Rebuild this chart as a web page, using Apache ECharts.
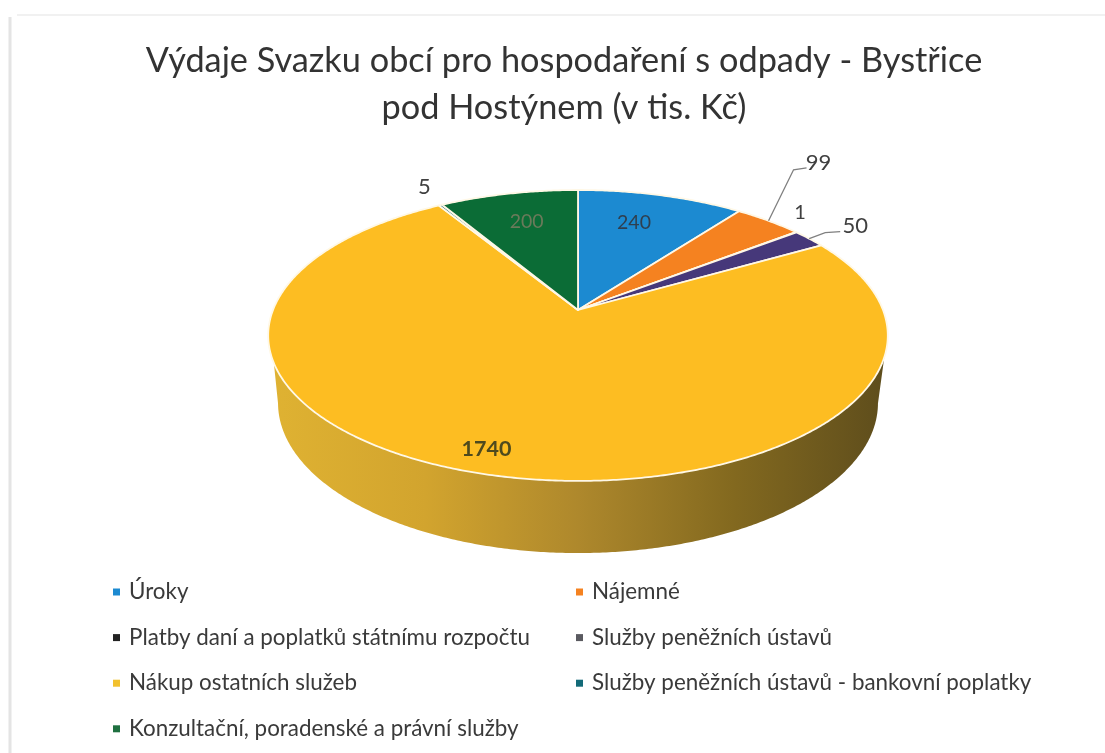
<!DOCTYPE html>
<html><head><meta charset="utf-8">
<style>html,body{margin:0;padding:0;background:#fff}#c{width:1105px;height:753px}</style>
<script src="https://cdn.jsdelivr.net/npm/echarts@6/dist/echarts.min.js"></script>
</head><body><div id="c"></div>
<script>
const titleText = 'Výdaje Svazku obcí pro hospodaření s odpady - Bystřice\npod Hostýnem (v tis. Kč)';
const categories = ['Úroky','Nájemné','Platby daní a poplatků státnímu rozpočtu','Služby peněžních ústavů','Nákup ostatních služeb','Služby peněžních ústavů - bankovní poplatky','Konzultační, poradenské a právní služby'];
const values = [240,99,1,50,1740,5,200];
const sliceColors = ['#1C8AD1','#F58220','#2B2B40','#46387A','#FDBD22','#1B6E80','#0B6C36'];
const legendColors = ['#1C8AD1','#F58220','#222222','#5A5A60','#F2C12E','#136A78','#1F7040'];
const leftColumn = [0,2,4,6];
const rightColumn = [1,3,5];

const total = values.reduce((a,b)=>a+b,0);
const top3d = {cx:578, cy:310, a:305, b:141, k:0.175};
const low3d = {cx:578, cy:377.5, a:295.6, b:145.7, k:0.17};
const wallTopRange = [108.4, 249.3];
const wallLowRange = [100, 260];
// label offset from the slice's rim midpoint, optional leader-line bends
const labelLayout = [
  {dx:-27,dy:27,font:'19.5px Lato',fill:'#2f3f4f'},
  {dx:50,dy:-58,font:'22px Lato',fill:'#404040',line:[[25,-51],[38,-53]]},
  {dx:4,dy:-20,font:'20px Lato',fill:'#404040'},
  {dx:46,dy:-13,font:'22px Lato',fill:'#404040',line:[[16,-6],[31,-7]]},
  {dx:-1,dy:-26,font:'bold 21.5px Lato',fill:'#4E4A1E'},
  {dx:-16,dy:-18,font:'22px Lato',fill:'#404040'},
  {dx:18,dy:28,font:'19.5px Lato',fill:'#6a7a5a'}
];

function project(p,deg){
  const t=deg*Math.PI/180, x=Math.sin(t), y=Math.cos(t), d=1+p.k*y;
  return [p.cx+p.a*x/d, p.cy-p.b*y/d];
}
function arc(p,from,to){
  const pts=[], n=Math.max(2,Math.ceil((to-from)*2));
  for(let i=0;i<=n;i++) pts.push(project(p,from+(to-from)*i/n));
  return pts;
}
const wallFill = new echarts.graphic.LinearGradient(272,0,886,0,[
  {offset:0,color:'#DFB232'},{offset:0.25,color:'#D2A42E'},{offset:0.5,color:'#AE882C'},
  {offset:0.75,color:'#83691F'},{offset:1,color:'#5E4D1C'}],true);

function makeRender(idx){
  return function(){
    let before=0; for(let i=0;i<idx;i++) before+=values[i];
    const a0=before/total*360, a1=(before+values[idx])/total*360, mid=(a0+a1)/2;
    const children=[];
    const ta=Math.max(a0,wallTopRange[0]), tb=Math.min(a1,wallTopRange[1]);
    if(tb>ta){
      const la=Math.max(a0,wallLowRange[0]), lb=Math.min(a1,wallLowRange[1]);
      children.push({type:'polygon',shape:{points:arc(top3d,ta,tb).concat(arc(low3d,la,lb).reverse())},style:{fill:wallFill,stroke:null}});
    }
    children.push({type:'polygon',shape:{points:[[top3d.cx,top3d.cy]].concat(arc(top3d,a0,a1))},
      style:{fill:sliceColors[idx],stroke:'#FFF8E6',lineWidth:1.8,lineJoin:'round'}});
    const rim=project(top3d,mid), L=labelLayout[idx];
    if(L.line){
      children.push({type:'polyline',shape:{points:[rim].concat(L.line.map(o=>[rim[0]+o[0],rim[1]+o[1]]))},
        style:{fill:null,stroke:'#808080',lineWidth:1.3}});
    }
    children.push({type:'text',style:{text:String(values[idx]),x:rim[0]+L.dx,y:rim[1]+L.dy,font:L.font,fill:L.fill,align:'center',verticalAlign:'middle'}});
    return {type:'group',children};
  };
}
const legendStyle={orient:'vertical',icon:'rect',padding:0,itemWidth:7,itemHeight:7,itemGap:23.6,selectedMode:false,
  textStyle:{fontFamily:'Lato',fontSize:22.4,color:'#3a3a3a',lineHeight:22,padding:[0,0,0,4]}};
const legendItem=i=>({name:categories[i],itemStyle:{color:legendColors[i]}});
const chart=echarts.init(document.getElementById('c'),null,{renderer:'canvas'});
chart.setOption({
  animation:false,backgroundColor:'#fff',
  title:{text:titleText,left:559,textAlign:'center',top:32,textStyle:{fontFamily:'Lato',fontWeight:'normal',fontSize:34.3,lineHeight:47,color:'#333'}},
  legend:[
    Object.assign({},legendStyle,{left:113,top:581,data:leftColumn.map(legendItem)}),
    Object.assign({},legendStyle,{left:576,top:581,data:rightColumn.map(legendItem)})
  ],
  graphic:[
    {type:'line',silent:true,shape:{x1:10,y1:17,x2:10,y2:753},style:{stroke:'#E4E4E4',lineWidth:3}},
    {type:'line',silent:true,shape:{x1:17,y1:15,x2:1105,y2:15},style:{stroke:'#F1F1F1',lineWidth:2}}
  ],
  series:categories.map((n,i)=>({type:'custom',name:n,coordinateSystem:'none',silent:true,
    data:[values[i]],renderItem:makeRender(i),itemStyle:{color:sliceColors[i]}}))
});
</script></body></html>
